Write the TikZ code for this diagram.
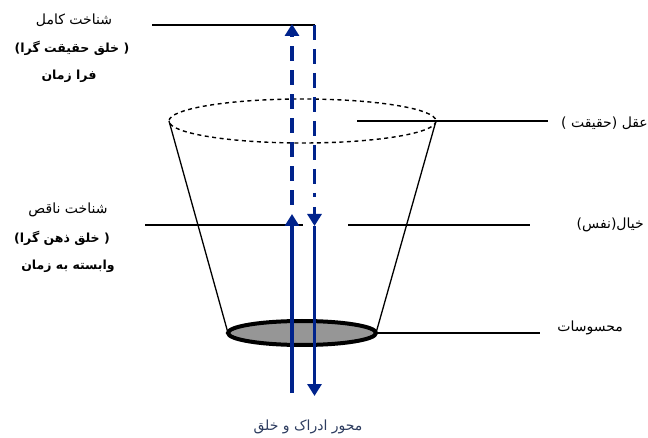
\documentclass[tikz,border=0pt]{standalone}
\usepackage{fontspec}
\newfontfamily\arabicfont[Script=Arabic]{DejaVu Sans}
\TeXXeTstate=1
\usetikzlibrary{arrows.meta}
\definecolor{axisblue}{RGB}{0,35,140}
\definecolor{labelblue}{RGB}{45,60,95}
\definecolor{diskgray}{RGB}{150,150,150}
\newcommand{\fatxt}[1]{{\arabicfont\beginR #1\endR}}
\begin{document}
\begin{tikzpicture}[x=1pt,y=-1pt,
  lbl/.style={inner sep=0pt,font=\fontsize{14}{16}\selectfont},
  blbl/.style={inner sep=0pt,font=\fontsize{12.5}{15}\selectfont\bfseries},
  thinline/.style={draw=black,line width=1.2pt},
  axis/.style={draw=axisblue,line width=3.8pt},
  axisdash/.style={axis,dash pattern=on 15pt off 9pt},
  tip/.style={-{Triangle[width=14pt,length=12pt]}},
]
\useasboundingbox (0,0) rectangle (648,438);

% named points
\coordinate (topL) at (169,121);
\coordinate (topR) at (436,121);
\coordinate (botL) at (228,333);
\coordinate (botR) at (376,333);

% cone
\draw[line width=1.3pt] (topL) -- (botL);
\draw[line width=1.3pt] (topR) -- (botR);
\draw[line width=1.4pt,dash pattern=on 4pt off 3.5pt] (302.5,121) ellipse [x radius=133.5,y radius=22];
\draw[line width=4pt,fill=diskgray] (302,333) ellipse [x radius=74,y radius=12];

% horizontal leader lines
\coordinate (h1a) at (152,25);   \coordinate (h1b) at (315,25);
\coordinate (h2a) at (357,121);  \coordinate (h2b) at (548,121);
\coordinate (h3a) at (145,225);  \coordinate (h3b) at (303,225);
\coordinate (h4a) at (348,225);  \coordinate (h4b) at (530,225);
\coordinate (h5a) at (377,333);  \coordinate (h5b) at (540,333);
\draw[thinline] (h1a) -- (h1b);
\draw[thinline] (h2a) -- (h2b);
\draw[thinline] (h3a) -- (h3b);
\draw[thinline] (h4a) -- (h4b);
\draw[thinline] (h5a) -- (h5b);

% axis lines
\coordinate (Lbot) at (292,393);
\coordinate (Lmid) at (292,214);
\coordinate (Ldash) at (292,205);
\coordinate (Ltop) at (292,24);
\coordinate (Rtop) at (314.5,25);
\coordinate (Rdashend) at (314.5,197);
\coordinate (Rmidstart) at (314.5,207);
\coordinate (Rmid) at (314.5,226);
\coordinate (Rbot) at (314.5,396);
\draw[axis,tip] (Lbot) -- (Lmid);
\draw[axisdash,tip] (Ldash) -- (Ltop);
\draw[axisdash] (Rtop) -- (Rdashend);
\draw[axis,tip] (Rmidstart) -- (Rmid);
\draw[axis,tip] (Rmid) -- (Rbot);

% left labels
\node[lbl]  (l1) at (74,20)  {\fatxt{شناخت کامل}};
\node[blbl] (l2) at (72,48)  {\fatxt{( خلق حقیقت گرا)}};
\node[blbl] (l3) at (69,76)  {\fatxt{فرا زمان}};
\node[lbl]  (l4) at (68,210) {\fatxt{شناخت ناقص}};
\node[blbl] (l5) at (62,238) {\fatxt{( خلق ذهن گرا)}};
\node[blbl] (l6) at (68,266) {\fatxt{وابسته به زمان}};

% right labels
\node[lbl,anchor=east] (r1) at (648,123) {\fatxt{عقل (حقیقت )}};
\node[lbl,anchor=east] (r2) at (644,225) {\fatxt{خیال(نفس)}};
\node[lbl,anchor=east] (r3) at (623,328) {\fatxt{محسوسات}};

% bottom label
\node[lbl,text=labelblue] (b1) at (308,427) {\fatxt{محور ادراک و خلق}};
\end{tikzpicture}
\end{document}
